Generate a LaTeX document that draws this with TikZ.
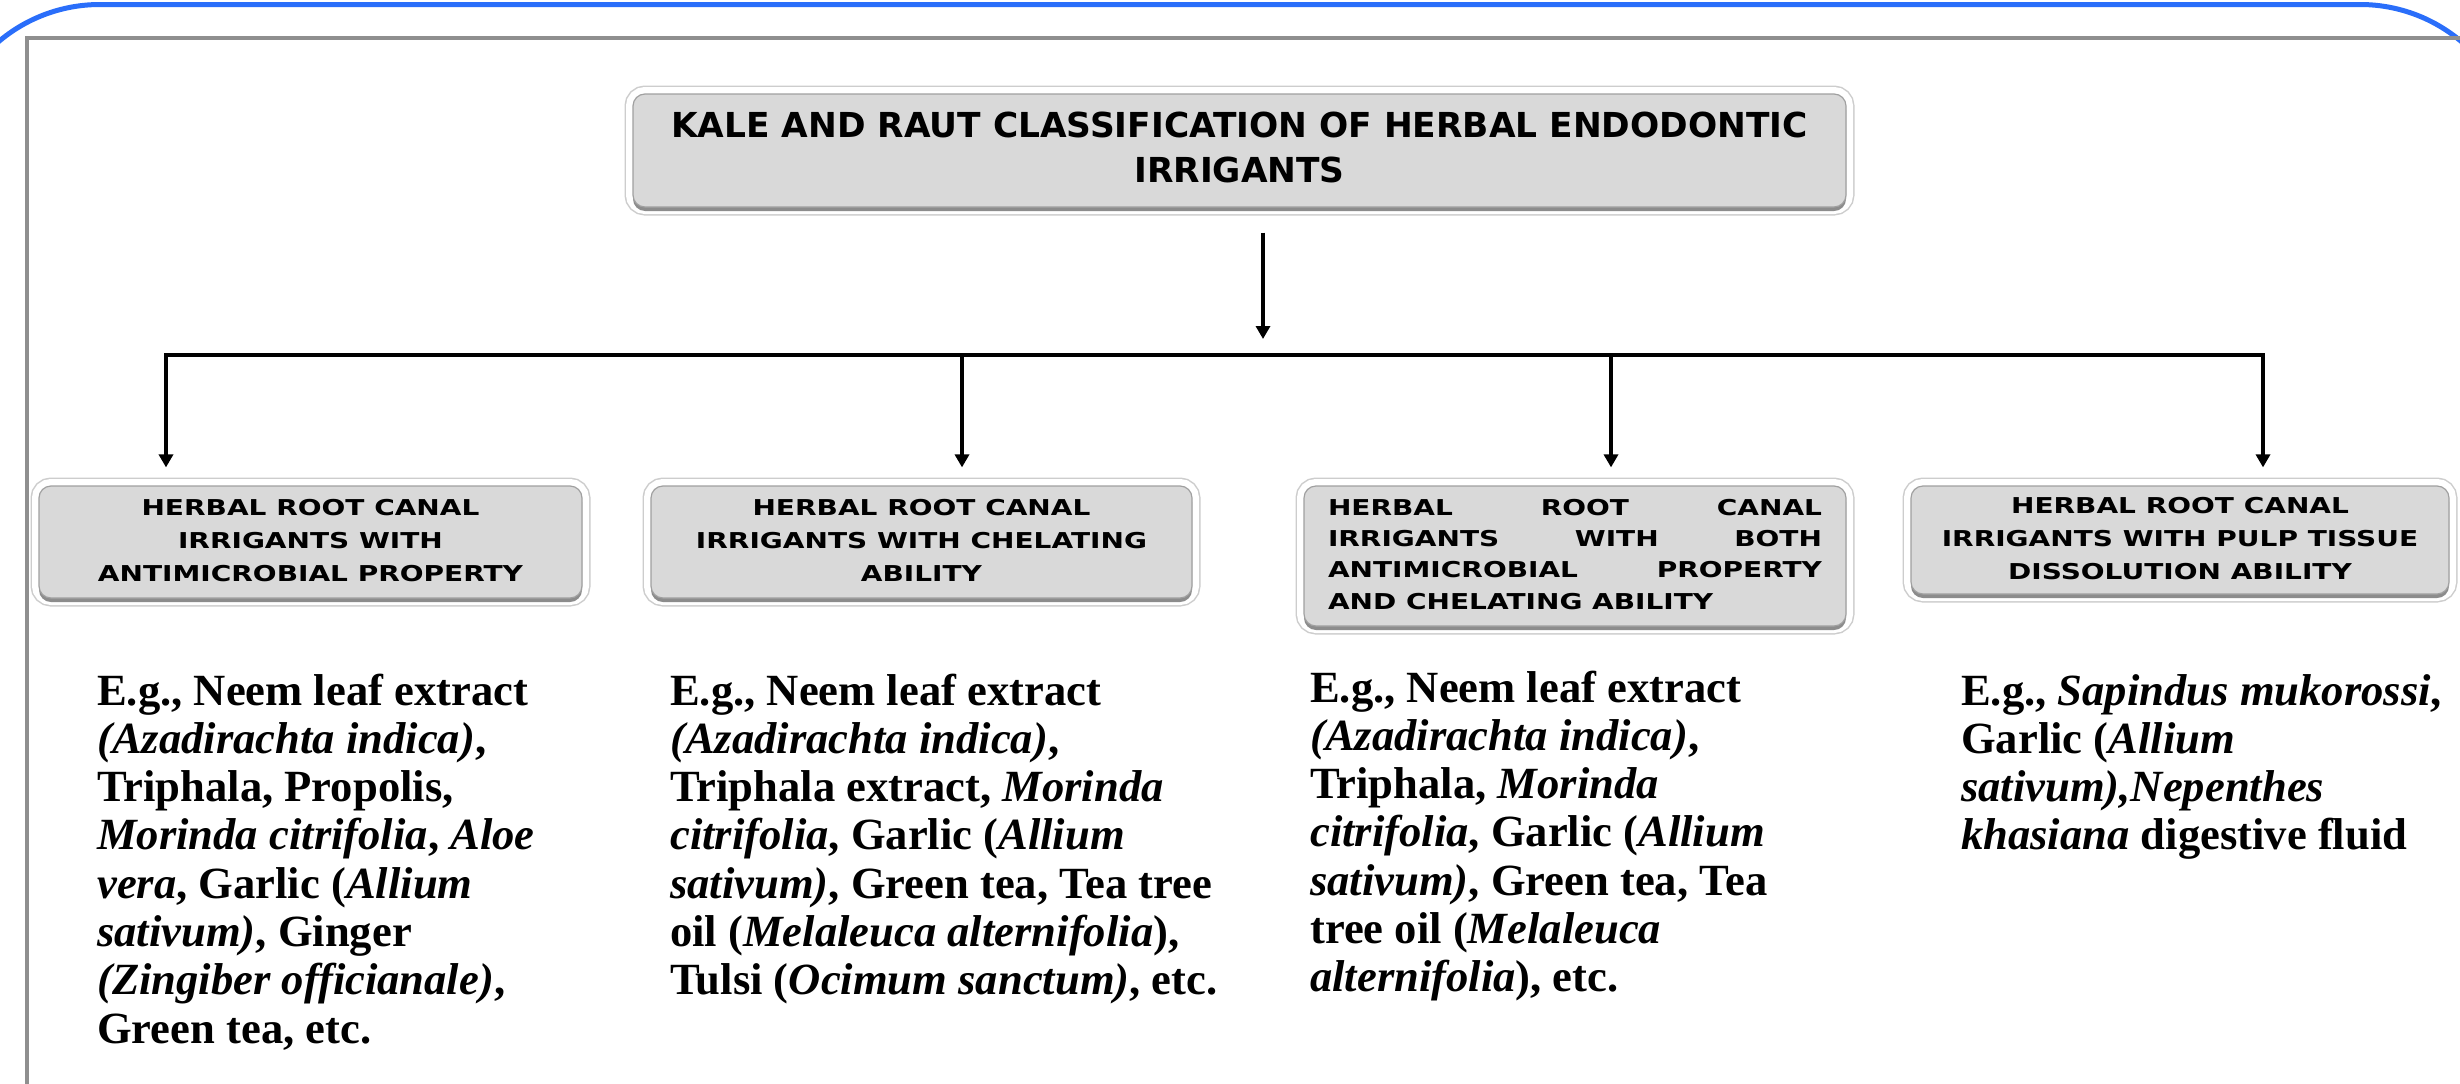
\documentclass[tikz,border=0pt]{standalone}
\usepackage{fontspec}
\usepackage{graphicx}
\setmainfont{Liberation Serif}
\newfontfamily\boxfont{DejaVu Sans}
\usetikzlibrary{arrows.meta}
\definecolor{frameblue}{RGB}{42,110,250}
\definecolor{framegray}{RGB}{143,143,143}
\definecolor{boxfill}{RGB}{217,217,217}
\definecolor{boxedge}{RGB}{160,160,160}
\definecolor{ringgray}{RGB}{205,205,205}
\definecolor{shadowgray}{RGB}{140,140,140}
\newcommand\hbt[1]{\scalebox{1}[0.78]{\boxfont\bfseries\fontsize{28}{42}\selectfont\begin{tabular}{@{}c@{}}#1\end{tabular}}}
\newcommand\hbtl[1]{\scalebox{1}[0.78]{\boxfont\bfseries\fontsize{28}{40}\selectfont\begin{tabular}{@{}l@{}}#1\end{tabular}}}
\newcommand\hct[1]{\fontsize{44.6}{48.3}\selectfont\bfseries\begin{tabular}[t]{@{}l@{}}#1\end{tabular}}
\tikzset{
  hbox/.style={rounded corners=12pt, fill=boxfill, draw=boxedge, line width=1.2pt, inner sep=0pt,
    preaction={draw=ringgray, line width=17pt},
    preaction={draw=white, line width=14pt},
    preaction={fill=shadowgray, transform canvas={yshift=-4pt}}},
  conn/.style={line width=3.5pt, black},
  arr/.style={conn, -{Triangle[length=13pt,width=14pt]}},
  coltext/.style={anchor=base west, inner sep=0pt, align=left}
}
\begin{document}
\begin{tikzpicture}[x=1pt,y=-1pt]
\useasboundingbox (0,0) rectangle (2460,1084);
\clip (0,0) rectangle (2460,1084);
\fill[white] (0,0) rectangle (2460,1084);
% frames
\draw[frameblue, line width=5pt, rounded corners=157pt] (-57,1300) -- (-57,4.5) -- (2517,4.5) -- (2517,1300);
\draw[framegray, line width=4pt] (27,1100) -- (27,38) -- (2470,38);

% title box
\node[hbox, minimum width=1213pt, minimum height=113pt] (top) at (1239.5,150.5)
  {\boxfont\bfseries\fontsize{34.4}{45}\selectfont\begin{tabular}{@{}c@{}}KALE AND RAUT CLASSIFICATION OF HERBAL ENDODONTIC\\IRRIGANTS\end{tabular}};

% category boxes
\node[hbox, minimum width=543pt, minimum height=112pt] (b1) at (310.5,542)
  {\hbt{HERBAL ROOT CANAL\\IRRIGANTS WITH\\ANTIMICROBIAL PROPERTY}};
\node[hbox, minimum width=541pt, minimum height=112pt] (b2) at (921.5,542)
  {\hbt{HERBAL ROOT CANAL\\IRRIGANTS WITH CHELATING\\ABILITY}};
\node[hbox, minimum width=542pt, minimum height=140pt] (b3) at (1575,556)
  {\hbtl{\makebox[494pt][s]{HERBAL ROOT CANAL}\\\makebox[494pt][s]{IRRIGANTS WITH BOTH}\\\makebox[494pt][s]{ANTIMICROBIAL PROPERTY}\\AND CHELATING ABILITY}};
\node[hbox, minimum width=538pt, minimum height=108pt] (b4) at (2180,540)
  {\hbt{HERBAL ROOT CANAL\\IRRIGANTS WITH PULP TISSUE\\DISSOLUTION ABILITY}};

% connectors
\coordinate (j) at (1263,339);
\coordinate (h1) at (166,355);
\coordinate (h2) at (962,355);
\coordinate (h3) at (1611,355);
\coordinate (h4) at (2263,355);
\draw[arr, shorten <=25pt] (top.south -| j) -- (j);
\draw[conn, line cap=rect] (h1) -- (h4);
\draw[arr, shorten >=18pt] (h1) -- (h1 |- b1.north);
\draw[arr, shorten >=18pt] (h2) -- (h2 |- b2.north);
\draw[arr, shorten >=18pt] (h3) -- (h3 |- b3.north);
\draw[arr, shorten >=18pt] (h4) -- (h4 |- b4.north);

% example texts
\node[coltext] (t1) at (97,705) {\hct{E.g., Neem leaf extract\\
\textit{(Azadirachta indica)},\\
Triphala, Propolis,\\
\textit{Morinda citrifolia}, \textit{Aloe}\\
\textit{vera}, Garlic (\textit{Allium}\\
\textit{sativum)}, Ginger\\
\textit{(Zingiber officianale)},\\
Green tea, etc.}};
\node[coltext] (t2) at (670,705) {\hct{E.g., Neem leaf extract\\
\textit{(Azadirachta indica)},\\
Triphala extract, \textit{Morinda}\\
\textit{citrifolia}, Garlic (\textit{Allium}\\
\textit{sativum)}, Green tea, Tea tree\\
oil (\textit{Melaleuca alternifolia}),\\
Tulsi (\textit{Ocimum sanctum)}, etc.}};
\node[coltext] (t3) at (1310,702) {\hct{E.g., Neem leaf extract\\
\textit{(Azadirachta indica)},\\
Triphala, \textit{Morinda}\\
\textit{citrifolia}, Garlic (\textit{Allium}\\
\textit{sativum)}, Green tea, Tea\\
tree oil (\textit{Melaleuca}\\
\textit{alternifolia}), etc.}};
\node[coltext] (t4) at (1961,705) {\hct{E.g., \textit{Sapindus mukorossi},\\
Garlic (\textit{Allium}\\
\textit{sativum),Nepenthes}\\
\textit{khasiana} digestive fluid}};
\end{tikzpicture}
\end{document}
